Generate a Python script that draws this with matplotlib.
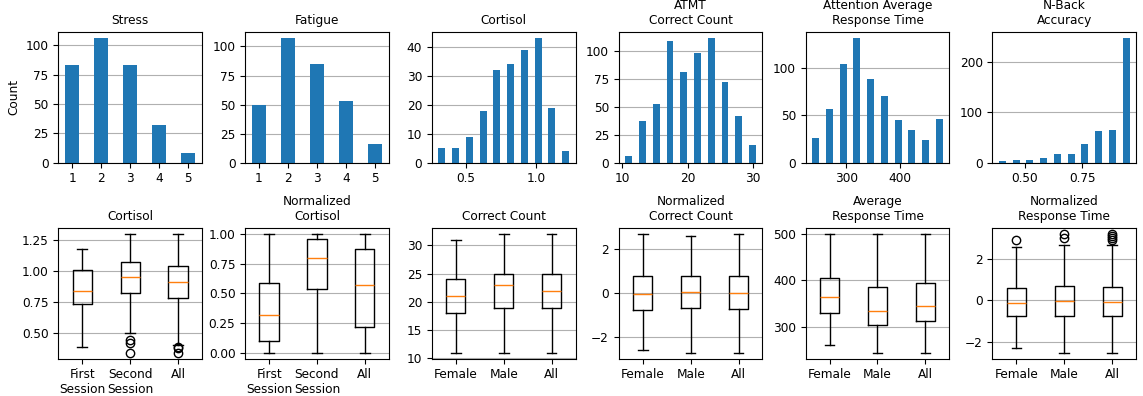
import numpy as np
import matplotlib
matplotlib.use("Agg")
import matplotlib.pyplot as plt
from matplotlib.ticker import MultipleLocator

# ---------------- top row: histogram counts ----------------
stress_levels = [1, 2, 3, 4, 5]
stress_counts = [83, 106, 83, 32, 8]
fatigue_levels = [1, 2, 3, 4, 5]
fatigue_counts = [50, 107, 85, 53, 16]

cortisol_range = (0.33, 1.306)
cortisol_counts = [5, 5, 9, 18, 32, 34, 39, 43, 19, 4]
atmt_range = (11, 32)
atmt_counts = [6, 37, 52, 109, 81, 98, 111, 72, 42, 16]
art_range = (243, 500)
art_counts = [26, 57, 104, 131, 88, 70, 45, 34, 24, 46]
nback_range = (0.402, 1.0)
nback_counts = [3, 5, 5, 10, 18, 18, 38, 62, 64, 246]

# ---------------- bottom row: box plot summaries ----------------
session_labels = ["First\nSession", "Second\nSession", "All"]
gender_labels = ["Female", "Male", "All"]

# (whislo, q1, med, q3, whishi, fliers)
cortisol_box = [(0.388, 0.738, 0.841, 1.008, 1.183, []),
                (0.50, 0.825, 0.951, 1.078, 1.302, [0.447, 0.42, 0.339]),
                (0.405, 0.784, 0.916, 1.043, 1.302, [0.39, 0.378, 0.339])]
norm_cortisol_box = [(0.0, 0.098, 0.321, 0.592, 1.0, []),
                     (0.0, 0.539, 0.796, 0.958, 1.0, []),
                     (0.0, 0.221, 0.573, 0.877, 1.0, [])]
correct_box = [(11, 18, 21, 24, 31, []),
               (11, 19, 23, 25, 32, []),
               (11, 19, 22, 25, 32, [])]
norm_correct_box = [(-2.59, -0.767, -0.045, 0.737, 2.66, []),
                    (-2.72, -0.707, 0.015, 0.737, 2.59, []),
                    (-2.72, -0.75, -0.015, 0.737, 2.66, [])]
rt_box = [(260.6, 330, 363.8, 404, 500, []),
          (243.4, 304.3, 333, 386, 500, []),
          (243.4, 312.9, 344.4, 394.6, 500, [])]
norm_rt_box = [(-2.28, -0.76, -0.126, 0.569, 2.545, [2.91]),
               (-2.53, -0.743, -0.047, 0.664, 2.66, [3.19, 3.02]),
               (-2.53, -0.743, -0.08, 0.632, 2.66, [3.19, 3.10, 2.99, 2.91])]

plt.rcParams["font.size"] = 8.7
plt.rcParams["axes.titlesize"] = 8.7
plt.rcParams["axes.titlepad"] = 5.5

fig, axes = plt.subplots(2, 6, figsize=(11.43, 3.96), dpi=100)
fig.subplots_adjust(left=0.051, right=0.994, top=0.919, bottom=0.094,
                    wspace=0.3, hspace=0.5)


def hist_plot(ax, edges, counts, title):
    edges = np.asarray(edges, dtype=float)
    ax.hist(edges[:-1], bins=edges, weights=counts, align="left",
            rwidth=0.5, color="#1f77b4")
    ax.set_title(title)
    ax.set_axisbelow(True)
    ax.yaxis.grid(True, color="#b0b0b0", linewidth=0.8)


def box_plot(ax, boxes, labels, title):
    stats = []
    for (lo, q1, med, q3, hi, fl), lab in zip(boxes, labels):
        stats.append(dict(whislo=lo, q1=q1, med=med, q3=q3, whishi=hi,
                          fliers=fl, label=lab))
    ax.bxp(stats, widths=0.4, showfliers=True)
    ax.set_title(title)
    ax.set_axisbelow(True)
    ax.yaxis.grid(True, color="#b0b0b0", linewidth=0.8)


hist_plot(axes[0, 0], np.arange(1, 7), stress_counts, "Stress")
hist_plot(axes[0, 1], np.arange(1, 7), fatigue_counts, "Fatigue")
hist_plot(axes[0, 2], np.linspace(*cortisol_range, 11), cortisol_counts, "Cortisol")
hist_plot(axes[0, 3], np.linspace(*atmt_range, 11), atmt_counts, "ATMT\nCorrect Count")
hist_plot(axes[0, 4], np.linspace(*art_range, 11), art_counts,
          "Attention Average\nResponse Time")
hist_plot(axes[0, 5], np.linspace(*nback_range, 11), nback_counts, "N-Back\nAccuracy")
axes[0, 0].set_ylabel("Count")

axes[0, 0].set_xticks(stress_levels)
axes[0, 1].set_xticks(fatigue_levels)
for ax in axes[0, :2]:
    ax.yaxis.set_major_locator(MultipleLocator(25))
axes[0, 2].xaxis.set_major_locator(MultipleLocator(0.5))
axes[0, 2].yaxis.set_major_locator(MultipleLocator(10))
axes[0, 3].xaxis.set_major_locator(MultipleLocator(10))
axes[0, 3].yaxis.set_major_locator(MultipleLocator(25))
axes[0, 4].xaxis.set_major_locator(MultipleLocator(100))
axes[0, 4].yaxis.set_major_locator(MultipleLocator(50))
axes[0, 5].xaxis.set_major_locator(MultipleLocator(0.25))
axes[0, 5].yaxis.set_major_locator(MultipleLocator(100))
axes[0, 5].xaxis.set_major_formatter(plt.FormatStrFormatter("%.2f"))

box_plot(axes[1, 0], cortisol_box, session_labels, "Cortisol")
box_plot(axes[1, 1], norm_cortisol_box, session_labels, "Normalized\nCortisol")
box_plot(axes[1, 2], correct_box, gender_labels, "Correct Count")
box_plot(axes[1, 3], norm_correct_box, gender_labels, "Normalized\nCorrect Count")
box_plot(axes[1, 4], rt_box, gender_labels, "Average\nResponse Time")
box_plot(axes[1, 5], norm_rt_box, gender_labels, "Normalized\nResponse Time")

axes[1, 0].yaxis.set_major_locator(MultipleLocator(0.25))
axes[1, 1].yaxis.set_major_locator(MultipleLocator(0.25))
axes[1, 2].yaxis.set_major_locator(MultipleLocator(5))
axes[1, 3].yaxis.set_major_locator(MultipleLocator(2))
axes[1, 4].yaxis.set_major_locator(MultipleLocator(100))
axes[1, 5].yaxis.set_major_locator(MultipleLocator(2))
for ax in axes[1, :2]:
    ax.yaxis.set_major_formatter(plt.FormatStrFormatter("%.2f"))

fig.savefig("out.png", dpi=100)
